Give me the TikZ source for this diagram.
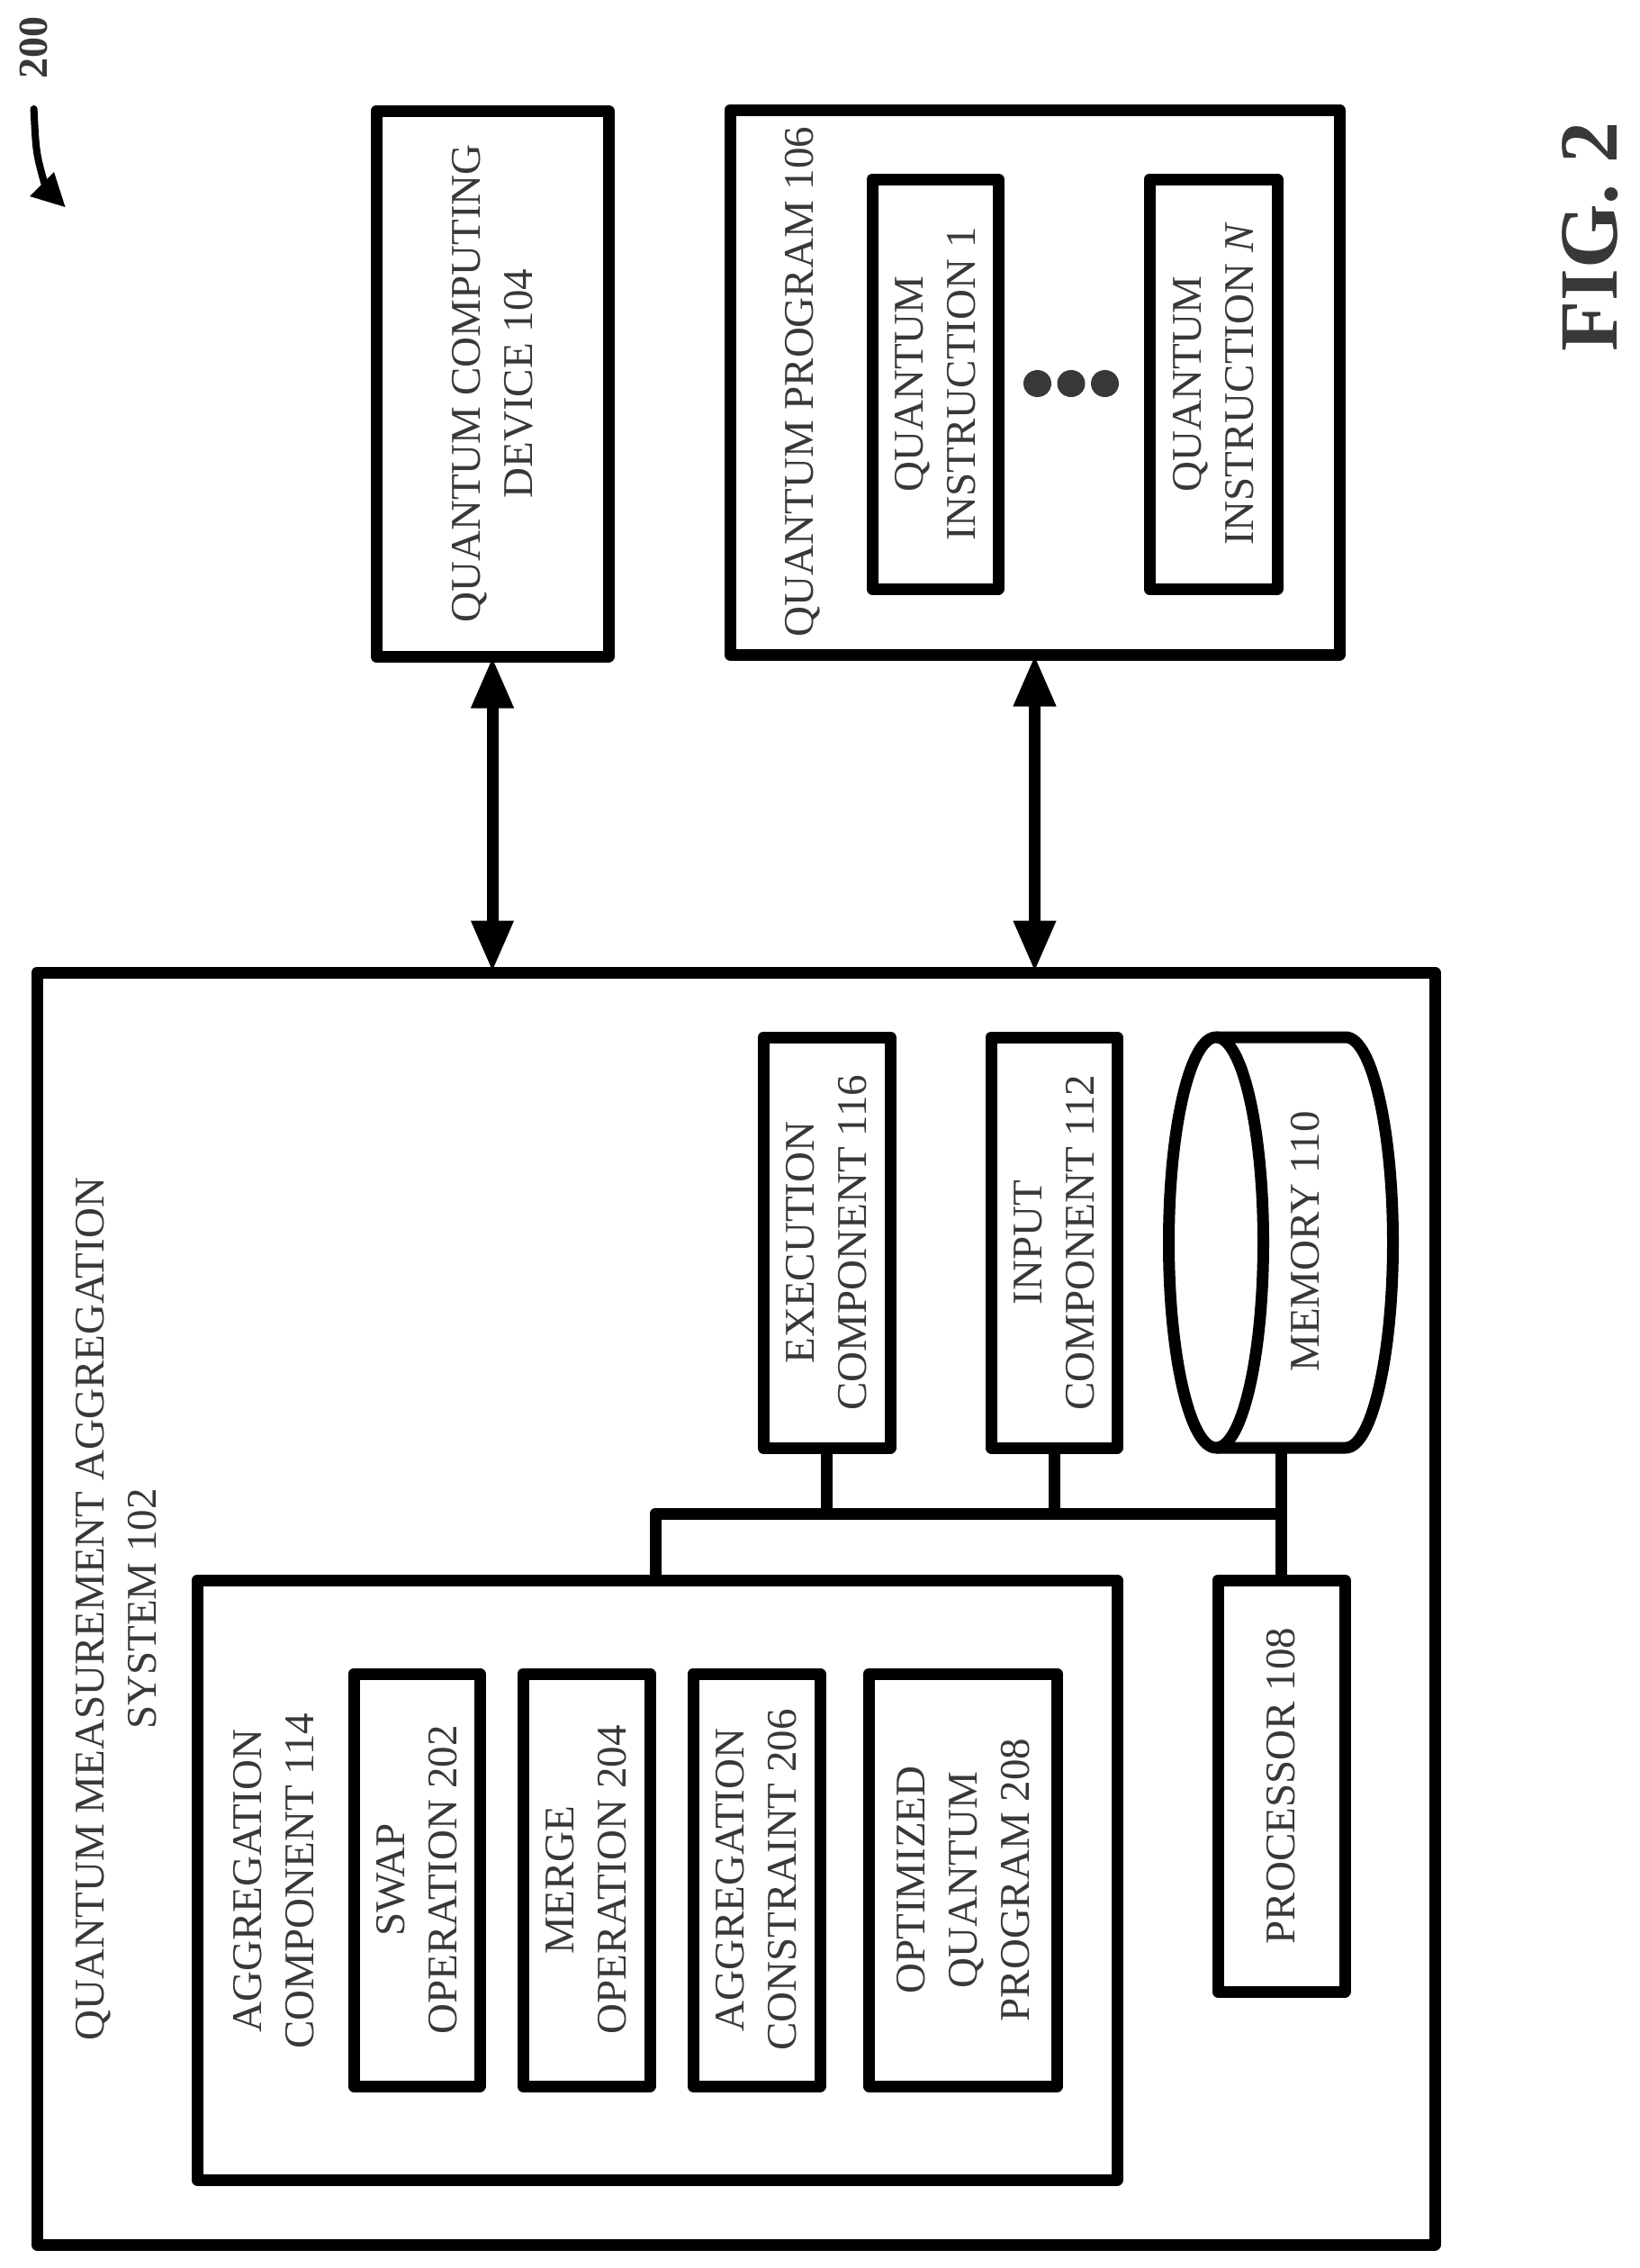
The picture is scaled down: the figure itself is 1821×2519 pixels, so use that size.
\documentclass[tikz,border=0pt]{standalone}
\usepackage{fontspec}
\setmainfont{Liberation Serif}
\usetikzlibrary{arrows.meta,shapes.geometric}
\definecolor{ink}{gray}{0.22}
\tikzset{
  lw/.style={line width=13pt,line join=round},
  box/.style={draw,lw,rotate=90,align=center,inner sep=0pt,text=ink,font=\fontsize{47}{58}\selectfont},
  label/.style={rotate=90,align=center,inner sep=0pt,text=ink,font=\fontsize{47}{58}\selectfont},
  wire/.style={lw},
  dbl/.style={line width=13pt,shorten <=-6pt,shorten >=-6pt,{Triangle[length=57pt,width=44pt]}-{Triangle[length=57pt,width=44pt]}},
  dot/.style={ellipse,fill=ink,inner sep=0pt,minimum width=31pt,minimum height=30pt}
}
\begin{document}
\begin{tikzpicture}[x=1pt,y=-1pt]
\useasboundingbox (0,0) rectangle (1821,2519);
% figure reference
\node[label,font=\bfseries\fontsize{46}{46}\selectfont] (ref) at (37,53) {200};
\coordinate (sa) at (37.6,121);
\coordinate (sb) at (40,170);
\coordinate (sc) at (50,206);
\coordinate (ta) at (60,191);
\coordinate (tb) at (33,218);
\coordinate (tt) at (72.5,230);
\draw[line width=8pt,line cap=round] (sa) .. controls (sb) .. (sc);
\fill (ta) -- (tt) -- (tb) -- cycle;
\node[label,font=\bfseries\fontsize{92}{92}\selectfont] (fig) at (1767,263) {FIG. 2};
% upper boxes
\node[box,minimum width=606pt,minimum height=258pt] (dev) at (547,426) {QUANTUM COMPUTING\\DEVICE 104};
\node[box,minimum width=605pt,minimum height=677pt] (prog) at (1149.5,424.5) {};
\node[label] (progl) at (892,424) {QUANTUM PROGRAM 106};
\node[box,minimum width=455pt,minimum height=140pt] (ins1) at (1039,426.5) {QUANTUM\\INSTRUCTION 1};
\node[box,minimum width=455pt,minimum height=142pt] (insn) at (1348,426.5) {QUANTUM\\INSTRUCTION \textit{N}};
\node[dot] (d1) at (1152.5,426) {};
\node[dot] (d2) at (1190,426) {};
\node[dot] (d3) at (1227.5,426) {};
% system
\node[box,minimum width=1413pt,minimum height=1553pt] (sys) at (817.5,1786.5) {};
\node[label] (sysl) at (129,1787) {QUANTUM MEASUREMENT AGGREGATION\\SYSTEM 102};
\node[box,minimum width=456pt,minimum height=141pt] (exec) at (918.5,1380) {EXECUTION\\COMPONENT 116};
\node[box,minimum width=456pt,minimum height=140pt] (inp) at (1171,1380) {INPUT\\COMPONENT 112};
% memory cylinder
\coordinate (memtop) at (1495,1152);
\coordinate (membot) at (1495,1608);
\draw[lw] (1351,1152) -- (memtop) arc[start angle=90,end angle=-90,x radius=52.5pt,y radius=228pt] -- (1351,1608);
\draw[lw] (1351,1380) ellipse[x radius=52.5pt,y radius=228pt];
\node[label] (meml) at (1450,1379) {MEMORY 110};
% aggregation
\node[box,minimum width=666pt,minimum height=1022pt] (agg) at (730,2088) {};
\node[label] (aggl) at (304,2089) {AGGREGATION\\COMPONENT 114};
\node[box,minimum width=458pt,minimum height=140pt] (swap) at (463,2088) {SWAP\\OPERATION 202};
\node[box,minimum width=458pt,minimum height=141pt] (merge) at (651.5,2088) {MERGE\\OPERATION 204};
\node[box,minimum width=458pt,minimum height=141pt] (cons) at (840.5,2088) {AGGREGATION\\CONSTRAINT 206};
\node[box,minimum width=458pt,minimum height=209pt] (opt) at (1070,2088) {OPTIMIZED\\QUANTUM\\PROGRAM 208};
\node[box,minimum width=457pt,minimum height=141pt] (proc) at (1423.5,1983.5) {PROCESSOR 108};
% bus
\coordinate (busL) at (728,1681);
\coordinate (busR) at (1423.5,1681);
\draw[wire] (busL |- agg.east) -- (busL) -- (busR);
\draw[wire] (exec.west) -- (exec.west |- busL);
\draw[wire] (inp.west) -- (inp.west |- busL);
\draw[wire] (proc.east) -- (proc.east |- membot);
% double arrows
\draw[dbl] (dev.west) -- (dev.west |- sys.east);
\draw[dbl] (prog.west) -- (prog.west |- sys.east);
\end{tikzpicture}
\end{document}
